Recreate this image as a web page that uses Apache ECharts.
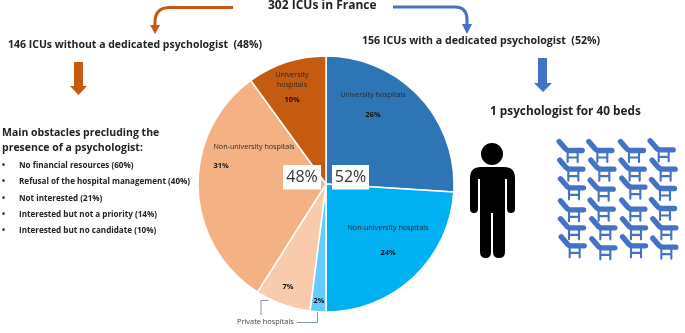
<!DOCTYPE html>
<html><head><meta charset="utf-8">
<style>html,body{margin:0;padding:0;background:#fff}#c{width:685px;height:333px}</style>
<script src="https://cdn.jsdelivr.net/npm/echarts@6/dist/echarts.min.js"></script>
</head><body><div id="c"></div>
<script>
const sliceNames = ['University hospitals','Non-university hospitals','','','Non-university hospitals','University\nhospitals'];
const sliceValues = [26,24,2,7,31,10];
const sliceColors = ['#2E75B6','#00B0F0','#66CCFF','#F7CBAC','#F4B183','#C55A11'];
const obstacles = ['No financial resources (60%)','Refusal of the hospital management (40%)','Not interested (21%)','Interested but not a priority (14%)','Interested but no candidate (10%)'];

const labelSpots = [[373,110],[388,248],[319,301],[288,287],[254,161],[292,90]];
const labelGaps = ['v30','v40','v','v','vl','v20'];
const bedSpots = [[293,30],[382,30],[477,30],[566,28],[295,86],[388,86],[479,86],[572,86],[297,142],[386,146],[481,140],[570,144],[297,208],[386,206],[481,206],[570,204],[297,262],[391,262],[483,262],[574,262],[299,316],[391,322],[483,316],[574,320]];

const FONT = '"Open Sans","Noto Sans",sans-serif';
const BLUE = '#4472C4', ORANGE = '#C55A11';
let shapeCount = 0;
function shapeOf(d){
  const name='svgShape'+(shapeCount++);
  echarts.graphic.registerShape(name, echarts.graphic.extendPath(d,{}));
  return name;
}
function txt(x,y,t,size,weight,extra){
  return {type:'text',z:20,x,y,style:Object.assign({text:t,font:`${weight} ${size}px ${FONT}`,fill:'#222',textVerticalAlign:'middle'},extra||{})};
}
function box(x,y,w,h){return {type:'rect',z:15,shape:{x,y,width:w,height:h},style:{fill:'#fff'}};}
function stroke(d,color,w){return {type:shapeOf(d),z:10,style:{fill:null,stroke:color,lineWidth:w}};}
function fill(d,color){return {type:shapeOf(d),z:10,style:{fill:color}};}

const g = [];
g.push(txt(268,6,'302 ICUs in France',12,700));
g.push(txt(8,45,'146 ICUs without a dedicated psychologist  (48%)',10.5,700));
g.push(txt(362,41,'156 ICUs with a dedicated psychologist  (52%)',10.6,700));
g.push(txt(490,112,'1 psychologist for 40 beds',11.8,700));
g.push(txt(2,133,'Main obstacles precluding the',10.5,700));
g.push(txt(2,148,'presence of a psychologist:',10.5,700));
obstacles.forEach((o,i)=>{
  const y=[166,182,199,215,231][i];
  g.push(txt(2,y,'•',8,700));
  g.push(txt(19,y,o,8.1,700));
});
// curved arrows
g.push(stroke('M233 7.5 L170 7.5 Q155 7.5 155 22 L155 27',ORANGE,3));
g.push(fill('M150 25 L160 25 L155 34 Z',ORANGE));
g.push(stroke('M393 7 L455 7 Q467 7 467 20 L467 26',BLUE,3));
g.push(fill('M462 24 L472 24 L467 34 Z',BLUE));
// straight arrows
g.push(fill('M74 62 L83 62 L83 86 L87 86 L78.5 95 L70 86 L74 86 Z',ORANGE));
g.push(fill('M538 58 L547 58 L547 83 L552 83 L543 92 L534 83 L538 83 Z',BLUE));
// percentage boxes
g.push(box(283,165,38,24.5));
g.push(box(332,165,37,24.5));
g.push(txt(302,177.5,'48%',16,400,{textAlign:'center',fill:'#333'}));
g.push(txt(350.5,177.5,'52%',16,400,{textAlign:'center',fill:'#333'}));
// private hospitals bracket
g.push(txt(237,322,'Private hospitals',7.4,400,{fill:'#444'}));
g.push(stroke('M268.5 300.5 L261 300.5 L261 315',  '#8497B0',1));
g.push(stroke('M297 322.5 L317.5 322.5 L317.5 312','#8497B0',1));
// person
g.push({type:'circle',z:10,shape:{cx:492,cy:154,r:11},style:{fill:'#000'}});
g.push(fill('M481 167 Q470 167 470 178 L470 209 Q470 213 474 213 Q478 213 478 209 L478 179 L480 179 L480 252 Q480 258 486 258 Q491 258 491 252 L491 213 L493 213 L493 252 Q493 258 499 258 Q505 258 505 252 L505 179 L507 179 L507 209 Q507 213 511 213 Q515 213 515 209 L515 178 Q515 167 504 167 Z','#000'));
// beds
const bedTop = shapeOf('M1.5 1.5 L7.5 8.5 Q9 10.5 12 10.5 L24.5 10.5');
const bedLegs = shapeOf('M10 12 L10 22 M20 12 L20 22 M10 17.5 L20 17.5');
bedSpots.forEach(s=>{
  const x=460+s[0]/3, y=130+s[1]/3;
  g.push({type:'group',z:10,x,y,children:[
    {type:bedTop,style:{fill:null,stroke:BLUE,lineWidth:5.4,lineCap:'round',lineJoin:'round'}},
    {type:bedLegs,style:{fill:null,stroke:BLUE,lineWidth:2.1,lineCap:'round'}}
  ]});
});

const chart = echarts.init(document.getElementById('c'),null,{renderer:'canvas'});
const val = lh => ({fontSize:7.4,fontWeight:700,color:'#111',fontFamily:FONT,lineHeight:lh,align:'center'});
chart.setOption({
  animation:false,
  backgroundColor:'#fff',
  textStyle:{fontFamily:FONT},
  series:[{
    type:'pie',
    center:[326,184],
    radius:[0,128],
    startAngle:90,
    clockwise:true,
    avoidLabelOverlap:false,
    minShowLabelAngle:0,
    itemStyle:{borderColor:'#fff',borderWidth:1.5},
    labelLine:{show:false},
    label:{
      show:true,position:'inside',
      formatter:p=>{
        const n=sliceNames[p.dataIndex];
        const v=`{${labelGaps[p.dataIndex]}|${p.value}%}`;
        if(!n) return v;
        return n.split('\n').map(l=>`{n|${l}}`).join('\n')+'\n'+v;
      },
      rich:{
        n:{fontSize:7.2,color:'#2b2b2b',fontFamily:FONT,lineHeight:10,align:'center'},
        v:val(12), v20:val(20), v30:val(30), v40:val(40),
        vl:{fontSize:7.4,fontWeight:700,color:'#111',fontFamily:FONT,lineHeight:28,align:'left'}
      }
    },
    labelLayout:p=>({x:labelSpots[p.dataIndex][0],y:labelSpots[p.dataIndex][1],align:'center',verticalAlign:'middle'}),
    data:sliceValues.map((v,i)=>({value:v,name:sliceNames[i]||('Private hospitals '+i),itemStyle:{color:sliceColors[i]}}))
  }],
  graphic:{elements:g}
});
</script></body></html>
